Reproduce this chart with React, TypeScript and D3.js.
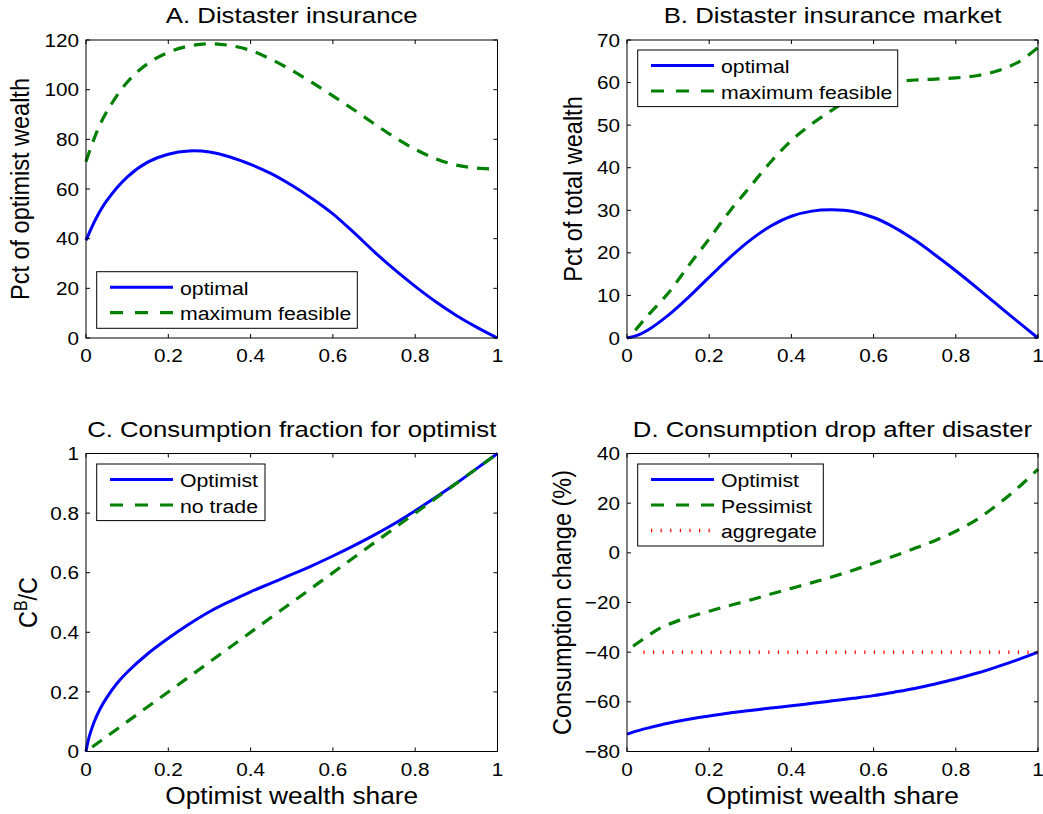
import React from 'react';
import * as d3 from 'd3';

const FONT = '"Liberation Sans", Arial, Helvetica, sans-serif';
const SX = 1.12; // the reference text is slightly wider than tall

// shared x axis
const xTicks = [0, 0.2, 0.4, 0.6, 0.8, 1];

// A. Distaster insurance
const aX = [0, 0.025, 0.05, 0.1, 0.15, 0.2, 0.25, 0.3, 0.35, 0.4, 0.45, 0.5, 0.55, 0.6, 0.65, 0.7, 0.75, 0.8, 0.85, 0.9, 0.95, 1];
const aOptimal = [39.3, 48.3, 55.2, 64.8, 70.8, 74, 75.3, 74.9, 72.9, 69.9, 66.2, 61.5, 56.1, 50, 42.6, 34.8, 27.5, 20.8, 14.6, 9.1, 4.3, 0];
const aMaxFeasible = [71, 82.5, 91, 103, 110.5, 115, 117.6, 118.5, 117.8, 115.8, 112.2, 107.8, 102.8, 97.5, 92, 86.3, 80.8, 76, 72.2, 69.6, 68.4, 68];
const aYTicks = [0, 20, 40, 60, 80, 100, 120];

// B. Distaster insurance market
const bX = [0, 0.025, 0.05, 0.1, 0.15, 0.2, 0.25, 0.3, 0.35, 0.4, 0.45, 0.5, 0.55, 0.6, 0.65, 0.7, 0.75, 0.8, 0.85, 0.9, 0.95, 1];
const bOptimal = [0, 0.6, 1.8, 5.3, 9.6, 14.3, 18.9, 23, 26.3, 28.6, 29.8, 30.1, 29.7, 28.3, 26, 23, 19.5, 15.8, 11.9, 7.9, 3.9, 0];
const bMaxX = [0.02, 0.05, 0.1, 0.15, 0.2, 0.25, 0.3, 0.35, 0.4, 0.45, 0.5, 0.55, 0.6, 0.65, 0.7, 0.75, 0.8, 0.85, 0.9, 0.95, 1];
const bMaxFeasible = [1.8, 5.2, 10.5, 17, 23.3, 29.8, 35.6, 41.4, 46.4, 50.3, 53.6, 56.5, 58.8, 60.1, 60.6, 60.8, 61.1, 61.6, 62.7, 64.7, 68.2];
const bYTicks = [0, 10, 20, 30, 40, 50, 60, 70];

// C. Consumption fraction for optimist
const cX = [0, 0.005, 0.01, 0.02, 0.035, 0.05, 0.075, 0.1, 0.15, 0.2, 0.25, 0.3, 0.35, 0.4, 0.45, 0.5, 0.55, 0.6, 0.65, 0.7, 0.75, 0.8, 0.85, 0.9, 0.95, 1];
const cOptimist = [0, 0.035, 0.06, 0.1, 0.145, 0.18, 0.228, 0.266, 0.328, 0.38, 0.427, 0.469, 0.504, 0.536, 0.565, 0.594, 0.624, 0.656, 0.69, 0.726, 0.765, 0.808, 0.853, 0.9, 0.95, 1];
const cNoTradeX = [0.015, 1];
const cNoTrade = [0.015, 1];
const cYTicks = [0, 0.2, 0.4, 0.6, 0.8, 1];

// D. Consumption drop after disaster
const dX = [0, 0.025, 0.05, 0.1, 0.15, 0.2, 0.25, 0.3, 0.35, 0.4, 0.45, 0.5, 0.55, 0.6, 0.65, 0.7, 0.75, 0.8, 0.85, 0.9, 0.95, 1];
const dOptimist = [-73, -71.7, -70.6, -68.6, -67, -65.7, -64.5, -63.5, -62.5, -61.6, -60.6, -59.6, -58.6, -57.5, -56.1, -54.6, -52.8, -50.8, -48.5, -45.9, -43.1, -40];
const dPessX = [0.015, 0.025, 0.05, 0.075, 0.1, 0.125, 0.15, 0.2, 0.25, 0.3, 0.35, 0.4, 0.45, 0.5, 0.55, 0.6, 0.65, 0.7, 0.75, 0.8, 0.85, 0.9, 0.95, 1];
const dPessimist = [-37.6, -36.4, -33.5, -30.8, -28.9, -27.3, -25.9, -23.5, -21.2, -19, -16.6, -14.3, -12, -9.6, -7, -4.2, -1.3, 1.8, 5, 8.7, 13.3, 19.2, 26, 33.7];
const dAggX = [0.04, 1];
const dAggregate = [-40, -40];
const dYTicks = [-80, -60, -40, -20, 0, 20, 40];

type Style = 'solid' | 'dashed' | 'dotted';
const STYLES: Record<Style, { color: string; width: number; dash?: string; legendDash?: string }> = {
  solid: { color: '#0000ff', width: 3 },
  dashed: { color: '#008000', width: 3.2, dash: '12 9', legendDash: '13 12' },
  dotted: { color: '#ff0000', width: 3.5, dash: '1.2 8.4', legendDash: '1.2 8.4' },
};

interface Series { name: string; xs: number[]; ys: number[]; style: Style }

const fmt = (v: number) => String(v).replace('-', '\u2212');

const T: React.FC<{ x: number; y: number; size: number; anchor?: string; rotate?: boolean; children: React.ReactNode }> = ({ x, y, size, anchor = 'middle', rotate, children }) => (
  <text
    transform={rotate ? `translate(${x},${y}) rotate(-90) scale(1,${SX})` : `translate(${x},${y}) scale(${SX},1)`}
    textAnchor={anchor}
    fontSize={size}
    fontFamily={FONT}
    fill="#000"
  >
    {children}
  </text>
);

interface PanelProps {
  left: number; top: number; width: number; height: number;
  yDomain: [number, number]; yTicks: number[];
  title: string; ylabel: React.ReactNode; ylabelX: number; xlabel?: string;
  series: Series[];
  legend: { x: number; y: number; w: number };
}

const Panel: React.FC<PanelProps> = ({ left, top, width, height, yDomain, yTicks, title, ylabel, ylabelX, xlabel, series, legend }) => {
  const x = d3.scaleLinear().domain([0, 1]).range([left, left + width]);
  const y = d3.scaleLinear().domain(yDomain).range([top + height, top]);
  const tl = 4;
  const cx = left + width / 2;
  const cy = top + height / 2;
  const rowH = 25.4;
  const pad = 15.6;
  const lh = pad * 2 + rowH * (series.length - 1);

  return (
    <g>
      {series.map((s) => {
        const st = STYLES[s.style];
        const path = d3.line<number>()
          .x((_, i) => x(s.xs[i]))
          .y((d) => y(d))
          .curve(d3.curveCatmullRom.alpha(0.5))(s.ys);
        return <path key={s.name} d={path || ''} fill="none" stroke={st.color} strokeWidth={st.width} strokeDasharray={st.dash} />;
      })}

      <rect x={left} y={top} width={width} height={height} fill="none" stroke="#000" strokeWidth={1} />
      {xTicks.map((t) => (
        <g key={'x' + t}>
          <line x1={x(t)} x2={x(t)} y1={top + height} y2={top + height - tl} stroke="#000" />
          <line x1={x(t)} x2={x(t)} y1={top} y2={top + tl} stroke="#000" />
          <T x={x(t)} y={top + height + 24} size={18.5}>{fmt(t)}</T>
        </g>
      ))}
      {yTicks.map((t) => (
        <g key={'y' + t}>
          <line x1={left} x2={left + tl} y1={y(t)} y2={y(t)} stroke="#000" />
          <line x1={left + width} x2={left + width - tl} y1={y(t)} y2={y(t)} stroke="#000" />
          <T x={left - 7} y={y(t) + 6.6} size={18.5} anchor="end">{fmt(t)}</T>
        </g>
      ))}

      <T x={cx} y={top - 17} size={23}>{title}</T>
      <T x={ylabelX} y={cy} size={23.5} rotate>{ylabel}</T>
      {xlabel && <T x={cx} y={top + height + 52} size={23.5}>{xlabel}</T>}

      <rect x={legend.x} y={legend.y} width={legend.w} height={lh} fill="#fff" stroke="#000" strokeWidth={1} />
      {series.map((s, i) => {
        const st = STYLES[s.style];
        const ry = legend.y + pad + i * rowH;
        return (
          <g key={'l' + s.name}>
            <line x1={legend.x + 13.3} x2={legend.x + 76.3} y1={ry} y2={ry} stroke={st.color} strokeWidth={st.width} strokeDasharray={st.legendDash} />
            <T x={legend.x + 83.3} y={ry + 7.5} size={19} anchor="start">{s.name}</T>
          </g>
        );
      })}
    </g>
  );
};

const cLabel = (
  <>
    C<tspan fontSize={16} dy={-9}>B</tspan><tspan dy={9}>/C</tspan>
  </>
);

export default function App() {
  return (
    <svg width={1043} height={814} style={{ position: 'absolute', left: 0, top: 0, background: '#fff' }}>
      <rect width={1043} height={814} fill="#fff" />
      <Panel
        left={86} top={40} width={411.5} height={298}
        yDomain={[0, 120]} yTicks={aYTicks}
        title="A. Distaster insurance" ylabel="Pct of optimist wealth" ylabelX={28.8}
        series={[
          { name: 'optimal', xs: aX, ys: aOptimal, style: 'solid' },
          { name: 'maximum feasible', xs: aX, ys: aMaxFeasible, style: 'dashed' },
        ]}
        legend={{ x: 96.7, y: 271.7, w: 260.6 }}
      />
      <Panel
        left={627} top={40} width={411} height={298}
        yDomain={[0, 70]} yTicks={bYTicks}
        title="B. Distaster insurance market" ylabel="Pct of total wealth" ylabelX={582}
        series={[
          { name: 'optimal', xs: bX, ys: bOptimal, style: 'solid' },
          { name: 'maximum feasible', xs: bMaxX, ys: bMaxFeasible, style: 'dashed' },
        ]}
        legend={{ x: 637.7, y: 50, w: 260 }}
      />
      <Panel
        left={86} top={453.5} width={411.5} height={298}
        yDomain={[0, 1]} yTicks={cYTicks}
        title="C. Consumption fraction for optimist" ylabel={cLabel} ylabelX={36.7}
        xlabel="Optimist wealth share"
        series={[
          { name: 'Optimist', xs: cX, ys: cOptimist, style: 'solid' },
          { name: 'no trade', xs: cNoTradeX, ys: cNoTrade, style: 'dashed' },
        ]}
        legend={{ x: 96.7, y: 464, w: 168.3 }}
      />
      <Panel
        left={627} top={453.5} width={411} height={298}
        yDomain={[-80, 40]} yTicks={dYTicks}
        title="D. Consumption drop after disaster" ylabel="Consumption change (%)" ylabelX={570.5}
        xlabel="Optimist wealth share"
        series={[
          { name: 'Optimist', xs: dX, ys: dOptimist, style: 'solid' },
          { name: 'Pessimist', xs: dPessX, ys: dPessimist, style: 'dashed' },
          { name: 'aggregate', xs: dAggX, ys: dAggregate, style: 'dotted' },
        ]}
        legend={{ x: 637.7, y: 464, w: 185.6 }}
      />
    </svg>
  );
}
